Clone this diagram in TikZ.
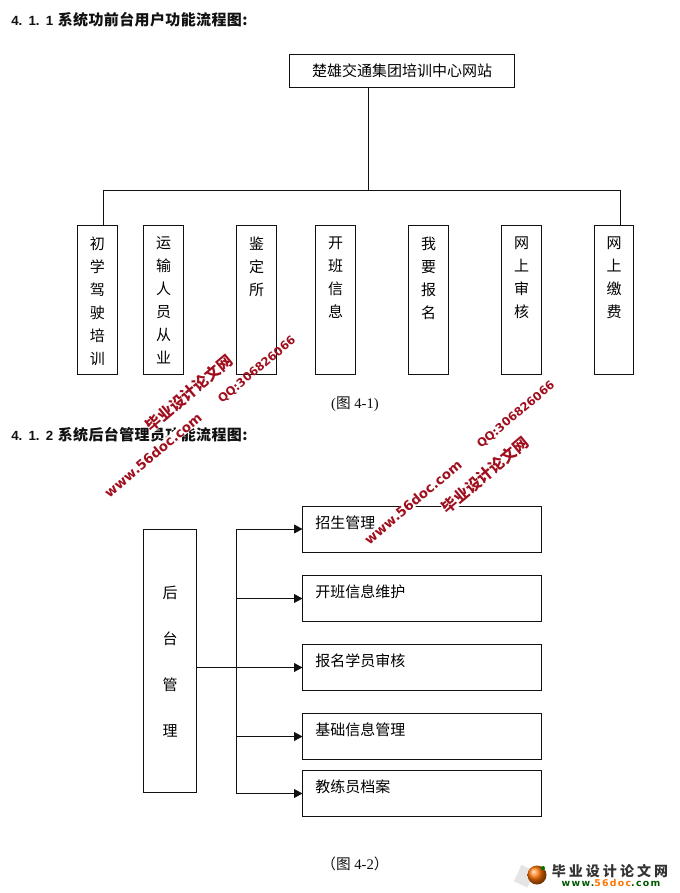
\documentclass[tikz,border=0pt]{standalone}
\usepackage{fontspec}
\setmainfont{Liberation Serif}
\newfontfamily\cjk{Noto Sans CJK SC}
\newfontfamily\lat{DejaVu Sans}
\newfontfamily\ari{Liberation Sans}
\newfontfamily\ser{Liberation Serif}
\usetikzlibrary{arrows.meta}
\definecolor{wm}{HTML}{A00F1E}
\definecolor{ink}{HTML}{111111}
\newcommand{\vbody}[2]{\parbox[c][#1][t]{26pt}{\centering\vspace*{8.7pt}\fontsize{11.25pt}{17.25pt}\selectfont\cjk #2\par\vfill}}
\newcommand{\hbody}[1]{\parbox[c][34.5pt][t]{179pt}{\raggedright\vspace*{7.25pt}\hspace*{9.5pt}\fontsize{11.25pt}{14pt}\selectfont\cjk #1\par\vfill}}
\newcommand{\headnum}[3]{{\fontsize{10pt}{12pt}\selectfont\ari\bfseries #1.\hspace{4.6pt}#2.\hspace{4.6pt}#3\hspace{3.5pt}}}
\tikzset{
  vertbox/.style={draw=ink,line width=0.75pt,inner sep=0pt,outer sep=0pt,anchor=north west,minimum height=111.75pt},
  horbox/.style={draw=ink,line width=0.75pt,inner sep=0pt,outer sep=0pt,anchor=north west,minimum width=179.25pt,minimum height=34.5pt},
  link/.style={ink,line width=0.75pt},
  arrowlink/.style={link,-{Triangle[length=6.2pt,width=6.5pt]}},
  heading/.style={anchor=west,inner sep=0pt,text=ink},
  caption/.style={inner sep=0pt,text=ink},
  wmark/.style={text=wm,fill=white,rotate=40,inner sep=0pt}
}
\begin{document}
\begin{tikzpicture}[x=0.75pt,y=-0.75pt]
\useasboundingbox[fill=white] (0,0) rectangle (680,893);
% headings
\node[heading] (h1) at (11,20) {\headnum{4}{1}{1}{\fontsize{11.25pt}{12pt}\selectfont\cjk\bfseries\addfontfeatures{LetterSpace=2.5}系统功前台用户功能流程图:}};
\node[heading] (h2) at (11,435) {\headnum{4}{1}{2}{\fontsize{11.25pt}{12pt}\selectfont\cjk\bfseries\addfontfeatures{LetterSpace=2.5}系统后台管理员功能流程图:}};
% top chart
\node[draw=ink,line width=0.75pt,outer sep=0pt,minimum width=168.75pt,minimum height=24.75pt,inner sep=0pt,anchor=north west,font=\fontsize{11.25pt}{12pt}\selectfont\cjk] (top) at (289.5,54) {楚雄交通集团培训中心网站};
\node[vertbox,minimum width=30pt] (b1) at (77.5,225) {\vbody{111.75pt}{初\\学\\驾\\驶\\培\\训}};
\node[vertbox,minimum width=30pt] (b2) at (143.5,225) {\vbody{111.75pt}{运\\输\\人\\员\\从\\业}};
\node[vertbox,minimum width=30pt] (b3) at (236.5,225) {\vbody{111.75pt}{鉴\\定\\所}};
\node[vertbox,minimum width=30pt] (b4) at (315.5,225) {\vbody{111.75pt}{开\\班\\信\\息}};
\node[vertbox,minimum width=30pt] (b5) at (408.5,225) {\vbody{111.75pt}{我\\要\\报\\名}};
\node[vertbox,minimum width=30pt] (b6) at (501.5,225) {\vbody{111.75pt}{网\\上\\审\\核}};
\node[vertbox,minimum width=29.25pt] (b7) at (594.5,225) {\vbody{111.75pt}{网\\上\\缴\\费}};
\coordinate (jc) at (368.5,190);
\coordinate (jl) at (103.5,190);
\coordinate (jr) at (620.5,190);
\draw[link] (jc |- top.south) -- (jc);
\draw[link] (jl |- b1.north) -- (jl) -- (jr) -- (jr |- b7.north);
\node[caption] (c1) at (355,404) {\fontsize{11pt}{12pt}\selectfont(\cjk 图\ser\ 4-1)};
% lower chart
\node[draw=ink,line width=0.75pt,outer sep=0pt,inner sep=0pt,anchor=north west,minimum width=39.75pt,minimum height=197.25pt] (hou) at (143.5,529.5) {\parbox[c][197.25pt][t]{30pt}{\centering\vspace*{42.5pt}\fontsize{11.25pt}{34.5pt}\selectfont\cjk 后\\台\\管\\理\par\vfill}};
\node[horbox] (r1) at (302.5,506) {\hbody{招生管理}};
\node[horbox] (r2) at (302.5,575.5) {\hbody{开班信息维护}};
\node[horbox] (r3) at (302.5,644.5) {\hbody{报名学员审核}};
\node[horbox] (r4) at (302.5,713.5) {\hbody{基础信息管理}};
\node[horbox] (r5) at (302.5,770.5) {\hbody{教练员档案}};
\coordinate (tr) at (236.5,600);
\draw[link] (tr |- r1.west) -- (tr |- r5.west);
\draw[arrowlink] (tr |- r1.west) -- (r1.west);
\draw[arrowlink] (tr |- r2.west) -- (r2.west);
\draw[arrowlink] (hou.east |- r3.west) -- (r3.west);
\draw[arrowlink] (tr |- r4.west) -- (r4.west);
\draw[arrowlink] (tr |- r5.west) -- (r5.west);
\node[caption] (c2) at (355,864) {\fontsize{11pt}{12pt}\selectfont\cjk （图\ser\ 4-2\cjk ）};
% watermarks
\node[wmark,font=\fontsize{11.5pt}{12pt}\selectfont\cjk\bfseries] (w1) at (189,393) {毕业设计论文网};
\node[wmark,font=\fontsize{10pt}{12pt}\selectfont\lat\bfseries] (w2) at (153,455) {www.56doc.com};
\node[wmark,fill=none,font=\fontsize{8.7pt}{12pt}\selectfont\lat\bfseries] (w3) at (257,370) {QQ:306826066};
\node[wmark,font=\fontsize{11.5pt}{12pt}\selectfont\cjk\bfseries] (w4) at (485,475) {毕业设计论文网};
\node[wmark,font=\fontsize{10pt}{12pt}\selectfont\lat\bfseries] (w5) at (413,502) {www.56doc.com};
\node[wmark,fill=none,font=\fontsize{8.7pt}{12pt}\selectfont\lat\bfseries] (w6) at (516,415) {QQ:306826066};
% logo
\fill[black!10,rotate around={-25:(524,876)}] (517,867) rectangle (532,885);
\shade[ball color=orange!90!red] (537,875) circle (9.5);
\fill[green!45!black] (543,868) circle (2);
\node[inner sep=0pt,anchor=center,text=black!80] (lg1) at (610,871) {\fontsize{10.5pt}{12pt}\selectfont\cjk\bfseries\addfontfeatures{LetterSpace=22}毕业设计论文网};
\node[inner sep=0pt,anchor=center] (lg2) at (611,883) {\fontsize{7pt}{8pt}\selectfont\lat\bfseries\addfontfeatures{LetterSpace=14}\textcolor{green!35!black}{www.}\textcolor{orange!90!red}{56doc}\textcolor{green!35!black}{.com}};
\end{tikzpicture}
\end{document}
